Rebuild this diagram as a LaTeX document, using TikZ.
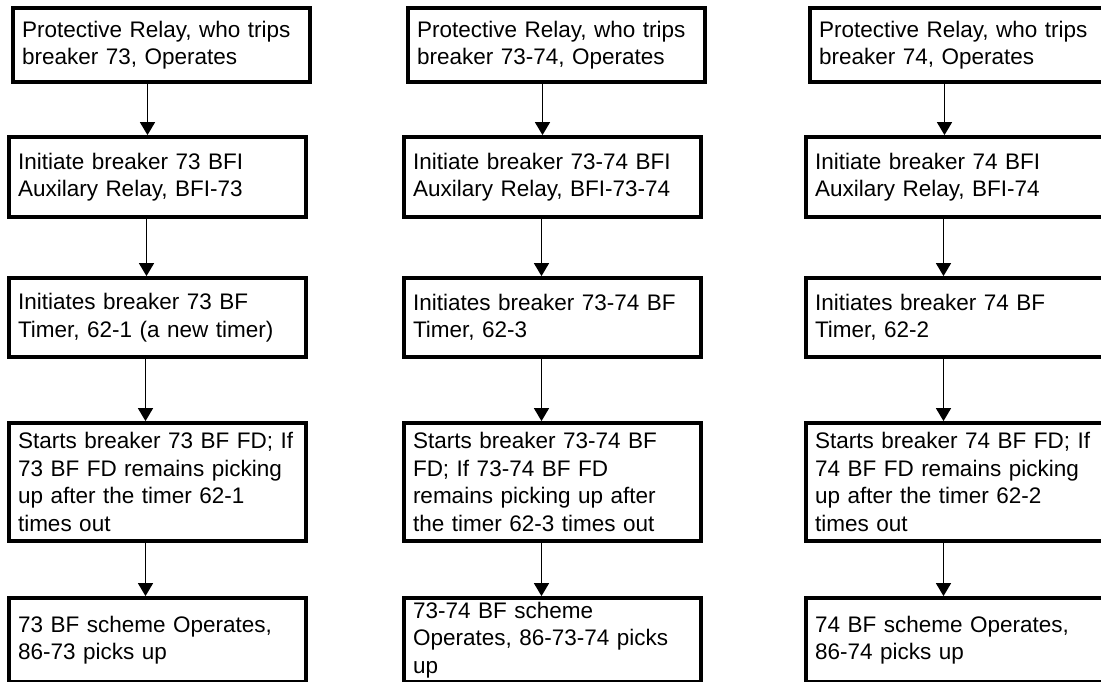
\documentclass[tikz,border=0pt]{standalone}
\usepackage{fontspec}
\setmainfont{Liberation Sans}
\usetikzlibrary{arrows.meta,positioning}

\begin{document}
\begin{tikzpicture}[
  x=1pt, y=-1pt,
  box/.style={draw, line width=3.8pt, outer sep=0pt, align=left, text width=279pt, inner xsep=9pt, inner ysep=2pt,
    minimum height=#1, anchor=north west, font=\fontsize{22.5}{27.5}\selectfont},
  arrow/.style={-{Triangle[length=13pt, width=15pt]}, line width=1.5pt, shorten >=1.9pt}
]
\useasboundingbox (0,0) rectangle (1101,681);
\clip (0,0) rectangle (1101,681);

% Breaker 73
\node[box=74pt] (relayA) at (13,8) {Protective Relay, who trips\\breaker 73, Operates};
\node[box=80pt, below=55pt of relayA, xshift=-4pt] (bfiA) {Initiate breaker 73 BFI\\Auxilary Relay, BFI-73};
\node[box=79pt, below=61pt of bfiA] (timerA) {Initiates breaker 73 BF\\Timer, 62-1 (a new timer)};
\node[box=118pt, below=66pt of timerA] (fdA) {Starts breaker 73 BF FD; If\\73 BF FD remains picking\\up after the timer 62-1\\times out};
\node[box=84pt, below=57pt of fdA] (schemeA) {73 BF scheme Operates,\\86-73 picks up};

% Breaker 73-74
\node[box=74pt] (relayB) at (408,8) {Protective Relay, who trips\\breaker 73-74, Operates};
\node[box=80pt, below=55pt of relayB, xshift=-4pt] (bfiB) {Initiate breaker 73-74 BFI\\Auxilary Relay, BFI-73-74};
\node[box=79pt, below=61pt of bfiB] (timerB) {Initiates breaker 73-74 BF\\Timer, 62-3};
\node[box=118pt, below=66pt of timerB] (fdB) {Starts breaker 73-74 BF\\FD; If 73-74 BF FD\\remains picking up after\\the timer 62-3 times out};
\node[box=84pt, below=57pt of fdB] (schemeB) {73-74 BF scheme\\Operates, 86-73-74 picks\\up};

% Breaker 74
\node[box=74pt] (relayC) at (810,8) {Protective Relay, who trips\\breaker 74, Operates};
\node[box=80pt, below=55pt of relayC, xshift=-4pt] (bfiC) {Initiate breaker 74 BFI\\Auxilary Relay, BFI-74};
\node[box=79pt, below=61pt of bfiC] (timerC) {Initiates breaker 74 BF\\Timer, 62-2};
\node[box=118pt, below=66pt of timerC] (fdC) {Starts breaker 74 BF FD; If\\74 BF FD remains picking\\up after the timer 62-2\\times out};
\node[box=84pt, below=57pt of fdC] (schemeC) {74 BF scheme Operates,\\86-74 picks up};

% Arrows
\draw[arrow] ([xshift=-10pt]bfiA.north |- relayA.south) -- ([xshift=-10pt]bfiA.north);
\draw[arrow] ([xshift=-11pt]timerA.north |- bfiA.south) -- ([xshift=-11pt]timerA.north);
\draw[arrow] ([xshift=-12pt]fdA.north |- timerA.south) -- ([xshift=-12pt]fdA.north);
\draw[arrow] ([xshift=-12pt]schemeA.north |- fdA.south) -- ([xshift=-12pt]schemeA.north);

\draw[arrow] ([xshift=-10pt]bfiB.north |- relayB.south) -- ([xshift=-10pt]bfiB.north);
\draw[arrow] ([xshift=-11pt]timerB.north |- bfiB.south) -- ([xshift=-11pt]timerB.north);
\draw[arrow] ([xshift=-11pt]fdB.north |- timerB.south) -- ([xshift=-11pt]fdB.north);
\draw[arrow] ([xshift=-11pt]schemeB.north |- fdB.south) -- ([xshift=-11pt]schemeB.north);

\draw[arrow] ([xshift=-10pt]bfiC.north |- relayC.south) -- ([xshift=-10pt]bfiC.north);
\draw[arrow] ([xshift=-11pt]timerC.north |- bfiC.south) -- ([xshift=-11pt]timerC.north);
\draw[arrow] ([xshift=-11pt]fdC.north |- timerC.south) -- ([xshift=-11pt]fdC.north);
\draw[arrow] ([xshift=-11pt]schemeC.north |- fdC.south) -- ([xshift=-11pt]schemeC.north);

\end{tikzpicture}
\end{document}
